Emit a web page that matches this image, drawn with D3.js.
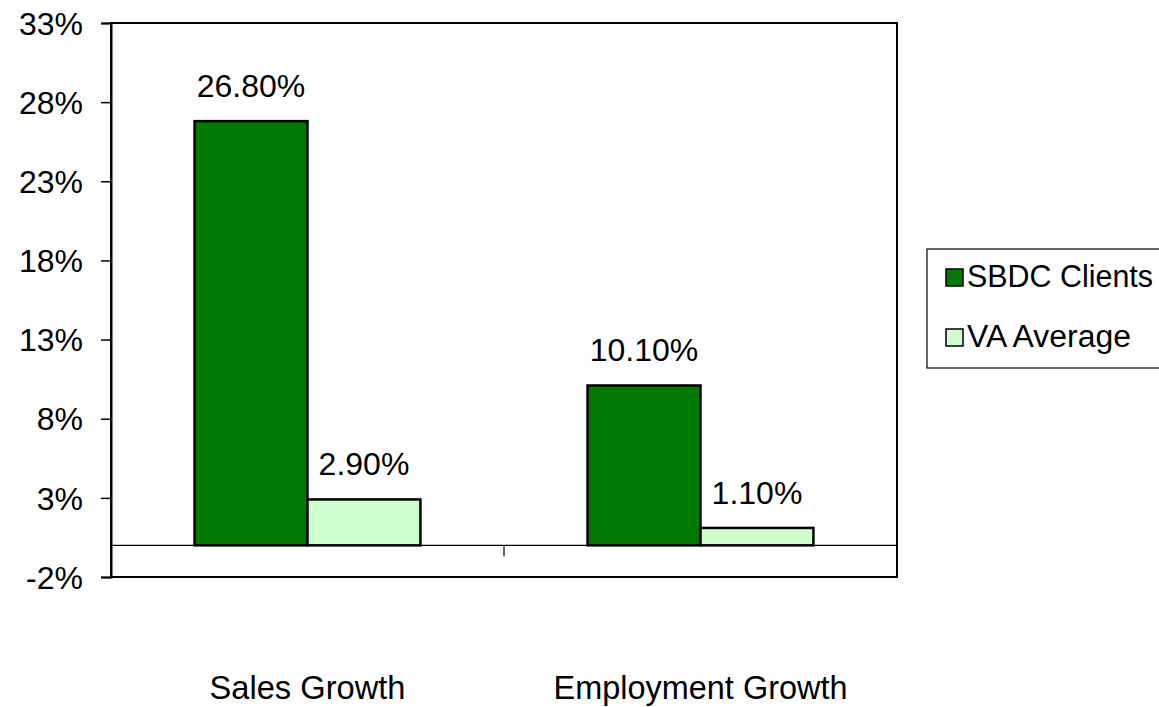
<!DOCTYPE html>
<html>
<head>
<meta charset="utf-8">
<script src="https://cdn.jsdelivr.net/npm/d3@7"></script>
<style>
  body { margin: 0; background: #fff; }
  text { font-family: "Liberation Sans", Arial, sans-serif; fill: #000; }
</style>
</head>
<body>
<div id="chart"></div>
<script>
const categories = ["Sales Growth", "Employment Growth"];
const seriesNames = ["SBDC Clients", "VA Average"];
const sbdcValues = [26.8, 10.1];
const vaValues = [2.9, 1.1];
const yTicks = [-2, 3, 8, 13, 18, 23, 28, 33];
const colors = ["#007a00", "#ccffcc"];

const width = 1159, height = 707;
const plot = { left: 111, right: 897, top: 23, bottom: 577 };

const svg = d3.select("#chart").append("svg")
  .attr("width", width)
  .attr("height", height);

const y = d3.scaleLinear().domain([-2, 33]).range([plot.bottom, plot.top]);
const x0 = d3.scaleBand().domain(categories).range([plot.left, plot.right]).padding(0);
const x1 = d3.scaleBand().domain(seriesNames).range([0, x0.bandwidth()])
  .paddingInner(0).paddingOuter(0.74);

const rows = categories.map((c, i) => ({
  cat: c,
  vals: [
    { name: seriesNames[0], v: sbdcValues[i], color: colors[0] },
    { name: seriesNames[1], v: vaValues[i], color: colors[1] }
  ]
}));

// plot frame
svg.append("rect")
  .attr("x", plot.left).attr("y", plot.top)
  .attr("width", plot.right - plot.left).attr("height", plot.bottom - plot.top)
  .attr("fill", "#fff").attr("stroke", "#000").attr("stroke-width", 2);

// y axis
const yAxis = svg.append("g")
  .attr("transform", `translate(${plot.left},0)`)
  .call(d3.axisLeft(y).tickValues(yTicks).tickFormat(d => d + "%").tickSize(10).tickPadding(18));
yAxis.select(".domain").attr("stroke-width", 2);
yAxis.selectAll(".tick line").attr("stroke-width", 1.5);
yAxis.selectAll(".tick text").attr("font-size", 32).attr("dy", "0.35em");

// zero line
svg.append("line")
  .attr("x1", plot.left).attr("x2", plot.right)
  .attr("y1", y(0)).attr("y2", y(0))
  .attr("stroke", "#000").attr("stroke-width", 1.2);

// category divider tick
svg.append("line")
  .attr("x1", x0(categories[1])).attr("x2", x0(categories[1]))
  .attr("y1", y(0)).attr("y2", y(0) + 11)
  .attr("stroke", "#000").attr("stroke-width", 1.2);

// bars
const groups = svg.append("g").selectAll("g")
  .data(rows).join("g")
  .attr("transform", d => `translate(${x0(d.cat)},0)`);

groups.selectAll("rect")
  .data(d => d.vals).join("rect")
  .attr("x", d => x1(d.name))
  .attr("y", d => y(d.v))
  .attr("width", x1.bandwidth())
  .attr("height", d => y(0) - y(d.v))
  .attr("fill", d => d.color)
  .attr("stroke", "#000").attr("stroke-width", 2.5);

groups.selectAll("text")
  .data(d => d.vals).join("text")
  .attr("x", d => x1(d.name) + x1.bandwidth() / 2)
  .attr("y", d => y(d.v) - 24)
  .attr("text-anchor", "middle")
  .attr("font-size", 32)
  .text(d => d.v.toFixed(2) + "%");

// category labels
svg.append("g").selectAll("text")
  .data(categories).join("text")
  .attr("x", d => x0(d) + x0.bandwidth() / 2)
  .attr("y", 699)
  .attr("text-anchor", "middle")
  .attr("font-size", 33)
  .attr("textLength", (d, i) => i === 0 ? 196 : 294)
  .attr("lengthAdjust", "spacingAndGlyphs")
  .text(d => d);

// legend
const legend = svg.append("g");
legend.append("rect")
  .attr("x", 927).attr("y", 249)
  .attr("width", 260).attr("height", 119)
  .attr("fill", "#fff").attr("stroke", "#000").attr("stroke-width", 1.2);

const items = legend.selectAll("g.item")
  .data(seriesNames).join("g")
  .attr("class", "item")
  .attr("transform", (d, i) => `translate(946,${269 + i * 60})`);
items.append("rect")
  .attr("width", 17).attr("height", 17)
  .attr("fill", (d, i) => colors[i])
  .attr("stroke", "#000").attr("stroke-width", 1.5);
items.append("text")
  .attr("x", 21).attr("y", 18)
  .attr("font-size", 31)
  .attr("textLength", (d, i) => i === 0 ? 186 : 164)
  .attr("lengthAdjust", "spacingAndGlyphs")
  .text(d => d);
</script>
</body>
</html>
